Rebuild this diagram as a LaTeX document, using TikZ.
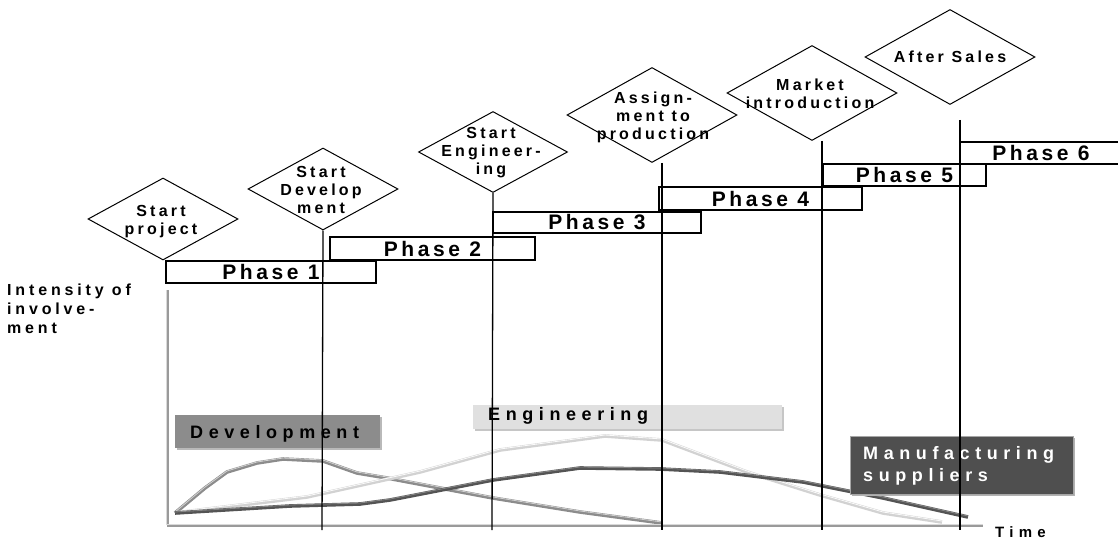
\documentclass[tikz,border=0pt]{standalone}
\usepackage{fontspec}
\setmainfont{Liberation Sans}
\newfontfamily\widePh{Liberation Sans}[LetterSpace=17, UprightFont=* Bold]
\newfontfamily\wideDi{Liberation Sans}[LetterSpace=20, UprightFont=* Bold]
\newfontfamily\wideAx{Liberation Sans}[LetterSpace=24, UprightFont=* Bold]
\newfontfamily\wideTm{Liberation Sans}[LetterSpace=35, UprightFont=* Bold]
\newfontfamily\wideBx{Liberation Sans}[LetterSpace=31, UprightFont=* Bold]
\usetikzlibrary{shapes.geometric}
\definecolor{devgray}{HTML}{8C8C8C}
\definecolor{enggray}{HTML}{E0E0E0}
\definecolor{mangray}{HTML}{4F4F4F}
\definecolor{axgray}{HTML}{9A9A9A}
\begin{document}
\begin{tikzpicture}[x=1pt,y=-1pt,
  dia/.style={draw, diamond, line width=1pt, inner sep=0pt},
  dtext/.style={align=center, inner sep=0pt, font=\wideDi\fontsize{16}{18}\selectfont},
  phase/.style={draw, line width=1.3pt, inner sep=0pt, minimum height=22pt, font=\widePh\fontsize{21}{22}\selectfont},
  vline/.style={line width=1.3pt},
  lbl/.style={inner sep=0pt, font=\wideBx\fontsize{18}{22}\selectfont, anchor=base west},
  axis/.style={line width=2.6pt, color=axgray},
  curvedev/.style={line width=3.6pt, color=devgray, line join=round},
  curveeng/.style={line width=3.6pt, color=enggray!85!gray, line join=round},
  curveman/.style={line width=3.6pt, color=mangray!90!gray, line join=round},
  hilite/.style={line width=0.8pt, color=white, opacity=0.6, line join=round}
]
\useasboundingbox (0,0) rectangle (1118,540);

% diamonds
\node[dia, minimum width=150pt, minimum height=82pt] (d1) at (163,219) {};
\node[dia, minimum width=150pt, minimum height=82pt] (d2) at (323,189) {};
\node[dia, minimum width=149pt, minimum height=81pt] (d3) at (493,152) {};
\node[dia, minimum width=170pt, minimum height=95pt] (d4) at (652,115) {};
\node[dia, minimum width=170pt, minimum height=95pt] (d5) at (812,93) {};
\node[dia, minimum width=170pt, minimum height=95pt] (d6) at (950,57) {};

\node[dtext] (t1) at (161,222) {Start\\project};
\node[dtext] (t2) at (321,190) {Start\\Develop\\ment};
\node[dtext] (t3) at (491,153) {Start\\Engineer-\\ing};
\node[dtext] (t4) at (653,117) {Assign-\\ment to\\production};
\node[dtext] (t5) at (810,94) {Market\\introduction};
\node[dtext] (t6) at (950,57) {After Sales};

% bottom coordinates
\coordinate (b2) at (322,530);
\coordinate (b3) at (492,530);
\coordinate (b4) at (662,530);
\coordinate (b5) at (822,530);
\coordinate (b6) at (960,530);
\coordinate (top6) at (960,120);

% curves
\draw[curvedev] (175,513) -- (205,488) -- (227,472) -- (257,463) -- (283,459) -- (323,461) -- (357,473) -- (387,478) -- (440,488) -- (493,498) -- (580,512) -- (662,523);
\draw[hilite] (175,512) -- (205,487) -- (227,471) -- (257,462) -- (283,458) -- (323,460) -- (357,472) -- (387,477) -- (440,487) -- (493,497) -- (580,511) -- (662,522);
\draw[curveeng] (175,513) -- (307,497) -- (420,472) -- (500,450) -- (605,436) -- (662,440) -- (747,472) -- (820,495) -- (883,513) -- (942,522);
\draw[hilite, opacity=0.9] (175,512) -- (307,496) -- (420,471) -- (500,449) -- (605,435) -- (662,439) -- (747,471) -- (820,494) -- (883,512) -- (942,521);
\draw[curveman] (175,513) -- (290,506) -- (360,504) -- (390,500) -- (493,480) -- (580,468) -- (660,469) -- (720,472) -- (803,482) -- (883,498) -- (968,517);
\draw[hilite, opacity=0.3] (175,512) -- (290,505) -- (360,503) -- (390,499) -- (493,479) -- (580,467) -- (660,468) -- (720,471) -- (803,481) -- (883,497) -- (968,516);

% labelled boxes
\fill[gray!55] (177,417) rectangle (382,450);
\node[fill=devgray, minimum width=205pt, minimum height=33pt, inner sep=0pt] (devbox) at (277.5,431.5) {};
\node[lbl] (devlbl) at (190,438) {Development};
\fill[gray!45] (475,407) rectangle (784,431);
\node[fill=enggray, minimum width=309pt, minimum height=24pt, inner sep=0pt] (engbox) at (627.5,417) {};
\node[lbl] (englbl) at (488,420) {Engineering};
\fill[gray!60] (852,438) rectangle (1075,496);
\node[fill=mangray, draw=gray!70, line width=0.6pt, minimum width=223pt, minimum height=58pt, inner sep=0pt] (manbox) at (961.5,465) {};
\node[lbl, text=white, align=left, anchor=north west, font=\wideBx\fontsize{18}{22}\selectfont] (manlbl) at (863,446) {Manufacturing\\suppliers};

% axes
\coordinate (ax0) at (168,526);
\coordinate (axtop) at (168,290);
\coordinate (axright) at (983,526);
\draw[axis] (axtop) -- (ax0) -- (axright);
\draw[line width=0.7pt, gray!30] (166.8,290) -- (166.8,524.8) -- (983,524.8);

\node[inner sep=0pt, anchor=north west, align=left, font=\wideAx\fontsize{16}{19}\selectfont] (ylabel) at (7,284) {Intensity of\\involve-\\ment};
\node[inner sep=0pt, anchor=base west, font=\wideTm\fontsize{15}{17}\selectfont] (xlabel) at (995,537) {Time};

% phases
\node[phase, minimum width=210pt] (p1) at (271,272) {Phase 1};
\node[phase, minimum width=205pt, minimum height=23pt] (p2) at (432.5,248.5) {Phase 2};
\node[phase, minimum width=208pt, minimum height=21pt] (p3) at (597,222.5) {Phase 3};
\node[phase, minimum width=203pt, minimum height=23pt] (p4) at (760.5,198.5) {Phase 4};
\node[phase, minimum width=163pt] (p5) at (904.5,175) {Phase 5};
\node[phase, minimum width=162pt] (p6) at (1041,153) {Phase 6};

% milestone lines
\draw[vline] (d2.south) -- (b2);
\draw[vline] (d3.south) -- (b3);
\draw[vline] (b4 |- d4.south) -- (b4);
\draw[vline] (b5 |- d5.south) -- (b5);
\draw[vline] (top6) -- (b6);
\end{tikzpicture}
\end{document}
